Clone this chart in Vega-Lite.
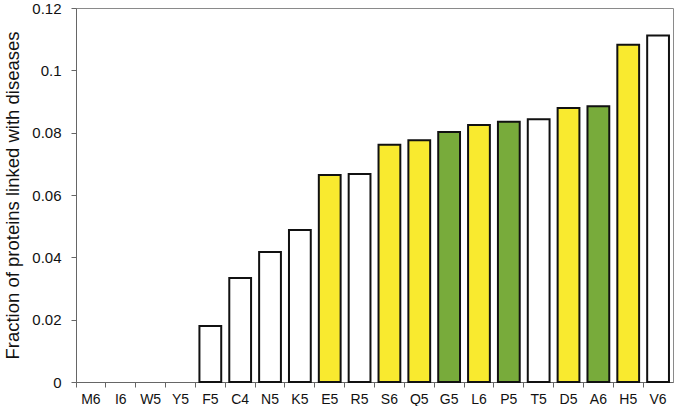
{
  "$schema": "https://vega.github.io/schema/vega-lite/v6.json",
  "width": 597,
  "height": 374,
  "autosize": {"type": "none"},
  "padding": {"left": 76, "top": 8, "right": 2, "bottom": 24},
  "background": "white",
  "config": {
    "font": "Liberation Sans",
    "view": {"stroke": "#8a8a8a", "strokeWidth": 1}
  },
  "data": {
    "values": [
      {"residue": "M6", "fraction": 0, "group": "none"},
      {"residue": "I6", "fraction": 0, "group": "none"},
      {"residue": "W5", "fraction": 0, "group": "none"},
      {"residue": "Y5", "fraction": 0, "group": "none"},
      {"residue": "F5", "fraction": 0.018, "group": "white"},
      {"residue": "C4", "fraction": 0.0334, "group": "white"},
      {"residue": "N5", "fraction": 0.0417, "group": "white"},
      {"residue": "K5", "fraction": 0.0488, "group": "white"},
      {"residue": "E5", "fraction": 0.0664, "group": "yellow"},
      {"residue": "R5", "fraction": 0.0667, "group": "white"},
      {"residue": "S6", "fraction": 0.0761, "group": "yellow"},
      {"residue": "Q5", "fraction": 0.0776, "group": "yellow"},
      {"residue": "G5", "fraction": 0.0802, "group": "green"},
      {"residue": "L6", "fraction": 0.0825, "group": "yellow"},
      {"residue": "P5", "fraction": 0.0835, "group": "green"},
      {"residue": "T5", "fraction": 0.0843, "group": "white"},
      {"residue": "D5", "fraction": 0.0879, "group": "yellow"},
      {"residue": "A6", "fraction": 0.0885, "group": "green"},
      {"residue": "H5", "fraction": 0.1082, "group": "yellow"},
      {"residue": "V6", "fraction": 0.1112, "group": "white"}
    ]
  },
  "transform": [{"filter": "datum.group != 'none'"}],
  "mark": {"type": "bar", "stroke": "#111111", "strokeWidth": 2, "width": {"band": 0.73}},
  "encoding": {
    "x": {
      "field": "residue",
      "type": "nominal",
      "sort": ["M6","I6","W5","Y5","F5","C4","N5","K5","E5","R5","S6","Q5","G5","L6","P5","T5","D5","A6","H5","V6"],
      "scale": {"domain": ["M6","I6","W5","Y5","F5","C4","N5","K5","E5","R5","S6","Q5","G5","L6","P5","T5","D5","A6","H5","V6"], "paddingInner": 0, "paddingOuter": 0},
      "axis": {
        "title": null,
        "labelAngle": 0,
        "labelFontSize": 14,
        "labelColor": "#111111",
        "labelPadding": 5,
        "bandPosition": 0,
        "tickSize": 5,
        "tickColor": "#666666",
        "domainColor": "#666666",
        "grid": false
      }
    },
    "y": {
      "field": "fraction",
      "type": "quantitative",
      "scale": {"domain": [0, 0.12], "nice": false},
      "axis": {
        "title": "Fraction of proteins linked with diseases",
        "titleFontSize": 18.5,
        "titleFontWeight": "normal",
        "titleColor": "#111111",
        "titlePadding": 9,
        "values": [0, 0.02, 0.04, 0.06, 0.08, 0.1, 0.12],
        "format": ".2~f",
        "labelFontSize": 15,
        "labelColor": "#111111",
        "labelPadding": 10,
        "tickSize": 5,
        "tickColor": "#666666",
        "domainColor": "#666666",
        "grid": false
      }
    },
    "fill": {
      "field": "group",
      "type": "nominal",
      "scale": {"domain": ["white", "yellow", "green"], "range": ["#ffffff", "#f9ea2f", "#78ab3b"]},
      "legend": null
    }
  }
}
